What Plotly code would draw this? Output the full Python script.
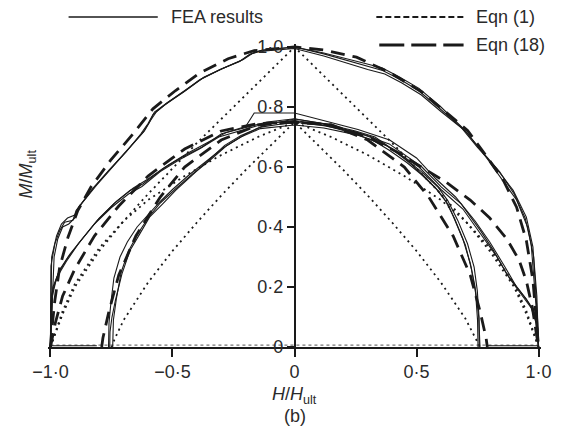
import plotly.graph_objects as go

# ---------------- data (H/Hult, M/Mult) ----------------
# FEA results, outer envelope (family A)
fea_a1_h = [-1.0, -0.998, -0.982, -0.962, -0.942, -0.908, -0.895, -0.875, -0.821, -0.754, -0.687, -0.620, -0.594, -0.574, -0.527, -0.446, -0.380, -0.299, -0.219, -0.179, -0.139, 0.0,
            0.120, 0.294, 0.361, 0.428, 0.508, 0.588, 0.682, 0.749, 0.829, 0.896, 0.950, 0.977, 0.990, 0.997, 1.0]
fea_a1_m = [0.0, 0.27, 0.344, 0.388, 0.416, 0.422, 0.455, 0.477, 0.533, 0.594, 0.655, 0.716, 0.75, 0.783, 0.811, 0.855, 0.894, 0.927, 0.955, 0.977, 0.988, 1.0,
            0.977, 0.938, 0.922, 0.894, 0.855, 0.8, 0.733, 0.666, 0.594, 0.522, 0.433, 0.333, 0.188, 0.077, 0.0]
fea_a2_h = [-1.0, -0.995, -0.975, -0.955, -0.93, -0.9, -0.885, -0.86, -0.81, -0.745, -0.68, -0.615, -0.59, -0.565, -0.52, -0.44, -0.37, -0.29, -0.21, -0.17, -0.13, 0.0,
            0.12, 0.29, 0.36, 0.43, 0.51, 0.6, 0.69, 0.76, 0.84, 0.9, 0.945, 0.97, 0.985, 0.995, 1.0]
fea_a2_m = [0.0, 0.3, 0.37, 0.41, 0.43, 0.44, 0.465, 0.49, 0.54, 0.6, 0.66, 0.72, 0.755, 0.785, 0.815, 0.86, 0.9, 0.93, 0.958, 0.98, 0.99, 1.0,
            0.98, 0.945, 0.93, 0.9, 0.862, 0.8, 0.73, 0.66, 0.585, 0.51, 0.43, 0.34, 0.2, 0.08, 0.0]
fea_a3_h = [-1.0, -0.99, -0.985, -0.97, -0.95, -0.925, -0.9, -0.88, -0.83, -0.76, -0.69, -0.63, -0.6, -0.58, -0.535, -0.455, -0.39, -0.305, -0.225, -0.185, -0.145, 0.0,
            0.12, 0.3, 0.37, 0.44, 0.52, 0.6, 0.7, 0.77, 0.85, 0.91, 0.955, 0.98, 0.993, 0.998, 1.0]
fea_a3_m = [0.0, 0.2, 0.3, 0.36, 0.4, 0.41, 0.43, 0.47, 0.525, 0.59, 0.65, 0.71, 0.745, 0.775, 0.805, 0.85, 0.89, 0.925, 0.952, 0.975, 0.985, 0.995,
            0.97, 0.925, 0.91, 0.88, 0.84, 0.785, 0.72, 0.65, 0.56, 0.49, 0.4, 0.3, 0.17, 0.06, 0.0]

# FEA results, narrow inner envelope (family B)
fea_b1_h = [-0.757, -0.756, -0.748, -0.734, -0.707, -0.674, -0.634, -0.594, -0.54, -0.487, -0.42, -0.353, -0.286, -0.219, -0.139, 0.0,
            0.12, 0.254, 0.321, 0.388, 0.455, 0.522, 0.588, 0.628, 0.669, 0.709, 0.736, 0.749, 0.756, 0.757]
fea_b1_m = [0.0, 0.05, 0.099, 0.155, 0.244, 0.322, 0.377, 0.433, 0.477, 0.522, 0.572, 0.622, 0.672, 0.705, 0.733, 0.75,
            0.738, 0.716, 0.699, 0.666, 0.627, 0.583, 0.533, 0.488, 0.422, 0.344, 0.266, 0.188, 0.099, 0.0]
fea_b2_h = [-0.745, -0.742, -0.73, -0.71, -0.68, -0.64, -0.6, -0.55, -0.49, -0.42, -0.35, -0.28, -0.2, -0.12, 0.0,
            0.12, 0.25, 0.33, 0.4, 0.47, 0.53, 0.59, 0.63, 0.665, 0.7, 0.725, 0.742, 0.75, 0.752]
fea_b2_m = [0.0, 0.09, 0.16, 0.25, 0.32, 0.38, 0.43, 0.48, 0.525, 0.575, 0.62, 0.67, 0.71, 0.74, 0.76,
            0.745, 0.72, 0.7, 0.66, 0.615, 0.57, 0.52, 0.475, 0.41, 0.34, 0.26, 0.18, 0.09, 0.0]
fea_b3_h = [-0.762, -0.76, -0.752, -0.74, -0.715, -0.685, -0.645, -0.6, -0.55, -0.5, -0.43, -0.36, -0.29, -0.22, -0.14, 0.0,
            0.12, 0.25, 0.32, 0.39, 0.46, 0.52, 0.58, 0.62, 0.655, 0.69, 0.72, 0.74, 0.755, 0.76]
fea_b3_m = [0.0, 0.08, 0.15, 0.23, 0.3, 0.35, 0.4, 0.44, 0.485, 0.525, 0.575, 0.62, 0.665, 0.7, 0.728, 0.74,
            0.73, 0.708, 0.69, 0.655, 0.615, 0.575, 0.528, 0.485, 0.43, 0.36, 0.28, 0.2, 0.1, 0.0]

# FEA results, intermediate envelope (family C)
fea_c1_h = [-1.0, -0.995, -0.969, -0.928, -0.875, -0.808, -0.741, -0.674, -0.62, -0.54, -0.46, -0.38, -0.299, -0.219, -0.112, 0.0,
            0.12, 0.254, 0.388, 0.522, 0.602, 0.683, 0.762, 0.815, 0.869, 0.923, 0.963, 0.99, 0.997, 1.0]
fea_c1_m = [0.0, 0.177, 0.244, 0.299, 0.355, 0.422, 0.477, 0.522, 0.544, 0.594, 0.633, 0.666, 0.711, 0.727, 0.75, 0.761,
            0.744, 0.716, 0.677, 0.6, 0.533, 0.477, 0.388, 0.322, 0.244, 0.188, 0.144, 0.099, 0.01, 0.0]
fea_c2_h = [-1.0, -0.99, -0.96, -0.92, -0.87, -0.8, -0.73, -0.66, -0.6, -0.52, -0.44, -0.36, -0.28, -0.2, -0.165, 0.0,
            0.12, 0.26, 0.39, 0.5, 0.58, 0.66, 0.74, 0.8, 0.86, 0.91, 0.95, 0.985, 0.995, 1.0]
fea_c2_m = [0.0, 0.2, 0.26, 0.31, 0.36, 0.43, 0.485, 0.53, 0.56, 0.605, 0.645, 0.68, 0.715, 0.735, 0.78, 0.78,
            0.755, 0.725, 0.69, 0.63, 0.56, 0.5, 0.42, 0.35, 0.27, 0.2, 0.16, 0.11, 0.03, 0.0]
fea_c3_h = [-1.0, -0.998, -0.975, -0.935, -0.885, -0.82, -0.75, -0.68, -0.625, -0.55, -0.47, -0.39, -0.31, -0.23, -0.12, 0.0,
            0.12, 0.25, 0.38, 0.51, 0.6, 0.69, 0.77, 0.83, 0.88, 0.93, 0.97, 0.99, 1.0]
fea_c3_m = [0.0, 0.15, 0.23, 0.285, 0.345, 0.41, 0.465, 0.51, 0.535, 0.585, 0.625, 0.66, 0.7, 0.72, 0.745, 0.755,
            0.74, 0.71, 0.67, 0.6, 0.525, 0.46, 0.37, 0.3, 0.23, 0.175, 0.13, 0.08, 0.0]

# FEA traces running along the base
fea_base_left_h = [-1.0, -0.81]
fea_base_right_h = [0.79, 1.0]
fea_base_m = [0.004, 0.004]

# Eqn (1)
eq1_a_h = [-1.0, -0.95, -0.9, -0.8, -0.7, -0.6, -0.5, -0.4, -0.3, -0.2, -0.1, 0.0, 0.1, 0.2, 0.3, 0.4, 0.5, 0.6, 0.7, 0.8, 0.9, 0.95, 1.0]
eq1_a_m = [0.0, 0.11, 0.2, 0.32, 0.42, 0.51, 0.595, 0.68, 0.76, 0.84, 0.92, 1.0, 0.92, 0.84, 0.76, 0.68, 0.595, 0.51, 0.42, 0.32, 0.2, 0.11, 0.0]
eq1_b_h = [-0.75, -0.735, -0.7, -0.6, -0.5, -0.4, -0.3, -0.2, -0.1, 0.0, 0.1, 0.2, 0.3, 0.4, 0.5, 0.6, 0.7, 0.74, 0.76]
eq1_b_m = [0.0, 0.03, 0.09, 0.215, 0.32, 0.415, 0.505, 0.59, 0.67, 0.75, 0.67, 0.59, 0.505, 0.415, 0.32, 0.215, 0.095, 0.035, 0.0]
eq1_c_h = [-1.0, -0.95, -0.9, -0.8, -0.7, -0.6, -0.45, -0.3, -0.15, 0.0, 0.15, 0.3, 0.45, 0.6, 0.7, 0.8, 0.9, 0.95, 1.0]
eq1_c_m = [0.0, 0.12, 0.21, 0.33, 0.42, 0.49, 0.57, 0.64, 0.7, 0.75, 0.7, 0.64, 0.57, 0.49, 0.42, 0.33, 0.21, 0.12, 0.0]
eq1_base_h = [-1.0, 1.0]
eq1_base_m = [0.006, 0.006]

# Eqn (18)
eq18_a_h = [-1.0, -0.996, -0.982, -0.962, -0.928, -0.888, -0.834, -0.754, -0.661, -0.58, -0.487, -0.393, -0.272, -0.165, 0.0,
            0.12, 0.254, 0.388, 0.522, 0.629, 0.709, 0.789, 0.856, 0.91, 0.95, 0.977, 0.99, 1.0]
eq18_a_m = [0.0, 0.044, 0.155, 0.266, 0.366, 0.455, 0.533, 0.622, 0.711, 0.794, 0.855, 0.911, 0.961, 0.988, 1.0,
            0.99, 0.966, 0.916, 0.85, 0.777, 0.722, 0.633, 0.555, 0.466, 0.355, 0.222, 0.111, 0.0]
eq18_b_h = [-0.79, -0.785, -0.76, -0.72, -0.65, -0.55, -0.45, -0.3, -0.15, 0.0, 0.15, 0.3, 0.45, 0.55, 0.65, 0.72, 0.76, 0.785, 0.79]
eq18_b_m = [0.0, 0.03, 0.12, 0.24, 0.37, 0.5, 0.6, 0.69, 0.74, 0.75, 0.74, 0.69, 0.6, 0.5, 0.37, 0.24, 0.12, 0.03, 0.0]
eq18_c_h = [-1.0, -0.98, -0.95, -0.9, -0.82, -0.72, -0.6, -0.45, -0.3, -0.15, 0.0, 0.15, 0.3, 0.42, 0.52, 0.62, 0.72, 0.8, 0.87, 0.92, 0.95, 0.975, 0.99, 1.0]
eq18_c_m = [0.0, 0.08, 0.17, 0.26, 0.37, 0.47, 0.57, 0.66, 0.72, 0.745, 0.75, 0.74, 0.7, 0.65, 0.6, 0.55, 0.49, 0.43, 0.36, 0.29, 0.22, 0.13, 0.05, 0.0]

x_tick_vals = [-1.0, -0.5, 0.0, 0.5, 1.0]
x_tick_text = ["\u22121\u00b70", "\u22120\u00b75", "0", "0\u00b75", "1\u00b70"]
y_tick_vals = [0.0, 0.2, 0.4, 0.6, 0.8, 1.0]
y_tick_text = ["0", "0\u00b72", "0\u00b74", "0\u00b76", "0\u00b78", "1\u00b70"]

# ---------------- figure ----------------
FONT = "Liberation Sans, Arial, Helvetica, sans-serif"
INK = "#1a1a1a"
fig = go.Figure()

def add(h, m, width, dash, color=INK):
    fig.add_trace(go.Scatter(x=h, y=m, mode="lines", showlegend=False, hoverinfo="skip",
                             line=dict(color=color, width=width, dash=dash)))

for h, m in [(eq1_a_h, eq1_a_m), (eq1_b_h, eq1_b_m), (eq1_c_h, eq1_c_m)]:
    add(h, m, 1.8, "2px,4px")
add(eq1_base_h, eq1_base_m, 1.2, "3px,3px", "#777")

for h, m in [(fea_a1_h, fea_a1_m), (fea_a2_h, fea_a2_m), (fea_a3_h, fea_a3_m),
             (fea_b1_h, fea_b1_m), (fea_b2_h, fea_b2_m), (fea_b3_h, fea_b3_m),
             (fea_c1_h, fea_c1_m), (fea_c2_h, fea_c2_m), (fea_c3_h, fea_c3_m),
             (fea_base_left_h, fea_base_m), (fea_base_right_h, fea_base_m)]:
    add(h, m, 1.1, "solid")

for h, m in [(eq18_a_h, eq18_a_m), (eq18_b_h, eq18_b_m), (eq18_c_h, eq18_c_m)]:
    add(h, m, 2.8, "14px,8px")

# The page has the browser's default 8px body margin, so the figure is drawn 8px
# smaller and every screen position below is given in window pixels.
OFF = 8
W, H = 564 - OFF, 429 - OFF
L, R, T, B = 40, 13, 36, 82
pw, ph = W - L - R, H - T - B

def px(xs):
    return (xs - OFF - L) / pw

def py(ys):
    return (H - B - (ys - OFF)) / ph

tick_font = dict(family=FONT, size=18, color="#2a2a2a")
fig.update_layout(
    width=W, height=H,
    margin=dict(l=L, r=R, t=T, b=B),
    paper_bgcolor="white", plot_bgcolor="white",
    xaxis=dict(range=[-1.01, 1.01], tickvals=x_tick_vals, ticktext=x_tick_text,
               showgrid=False, zeroline=False, showline=True, linecolor=INK, linewidth=1.5,
               ticks="outside", ticklen=8, tickwidth=1.5, tickcolor=INK, tickfont=tick_font),
    yaxis=dict(range=[0, 1.01], tickvals=y_tick_vals, ticktext=y_tick_text,
               anchor="free", position=0.5,
               showgrid=False, zeroline=False, showline=True, linecolor=INK, linewidth=1.5,
               ticks="outside", ticklen=7, tickwidth=1.5, tickcolor=INK, tickfont=tick_font),
)

ann_font = dict(family=FONT, size=18, color="#2a2a2a")
fig.add_annotation(x=px(299.5), y=py(395), xref="paper", yref="paper", showarrow=False,
                   xanchor="center", yanchor="middle",
                   text="<i>H</i>/<i>H</i><sub>ult</sub>", font=ann_font)
fig.add_annotation(x=px(299.5), y=py(416), xref="paper", yref="paper", showarrow=False,
                   xanchor="center", yanchor="middle", text="(b)", font=ann_font)
fig.add_annotation(x=px(27), y=py(174), xref="paper", yref="paper", showarrow=False,
                   xanchor="center", yanchor="middle",
                   text="<i>M</i>/<i>M</i><sub>ult</sub>", textangle=-90, font=ann_font)

# legend drawn by hand to match the reference layout
fig.add_shape(type="line", xref="paper", yref="paper", x0=px(69), x1=px(160), y0=py(17), y1=py(17),
              line=dict(color=INK, width=1.5))
fig.add_annotation(x=px(171), y=py(17), xref="paper", yref="paper", showarrow=False,
                   xanchor="left", yanchor="middle", text="FEA results", font=ann_font)
fig.add_shape(type="line", xref="paper", yref="paper", x0=px(383), x1=px(472), y0=py(17), y1=py(17),
              line=dict(color=INK, width=1.8, dash="6px,3px"))
fig.add_annotation(x=px(483), y=py(17), xref="paper", yref="paper", showarrow=False,
                   xanchor="left", yanchor="middle", text="Eqn (1)", font=ann_font)
fig.add_shape(type="line", xref="paper", yref="paper", x0=px(386), x1=px(472), y0=py(45), y1=py(45),
              line=dict(color=INK, width=3, dash="25px,7px"))
fig.add_annotation(x=px(483), y=py(45), xref="paper", yref="paper", showarrow=False,
                   xanchor="left", yanchor="middle", text="Eqn (18)", font=ann_font)

fig.write_html("out.html")
